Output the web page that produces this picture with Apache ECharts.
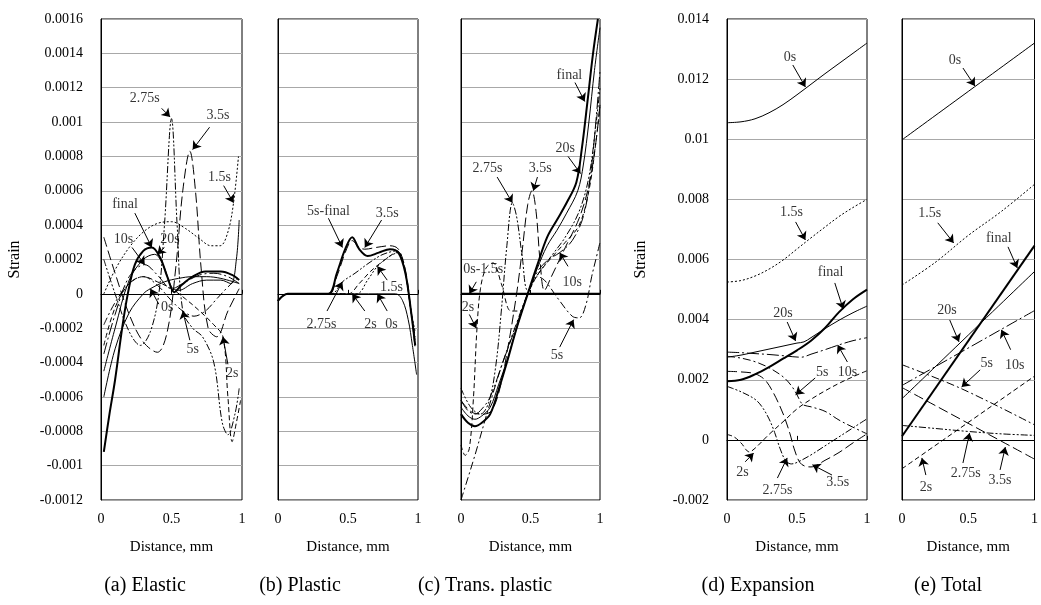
<!DOCTYPE html>
<html>
<head>
<meta charset="utf-8">
<script src="https://cdn.jsdelivr.net/npm/echarts@6/dist/echarts.min.js"></script>
<style>
  html, body { margin: 0; padding: 0; background: #fff; }
  #chart { width: 1041px; height: 605px; }
</style>
</head>
<body>
<div id="chart"></div>
<script>
// ---- axis ranges / ticks ----
const xRange = [0, 1, 0.5];                 // min, max, step (Distance, mm)
const yRangeSmall = [-0.0012, 0.0016, 0.0002]; // panels a-c
const yRangeLarge = [-0.002, 0.014, 0.002];    // panels d-e
const captions = ['(a) Elastic', '(b) Plastic', '(c) Trans. plastic', '(d) Expansion', '(e) Total'];

// ---- (a) Elastic ----
const aFinal = [[0.02,-0.00092],[0.06,-0.0007],[0.1,-0.0005],[0.15,-0.0002],[0.19,0],[0.24,0.00017],[0.3,0.00025],[0.36,0.00027],[0.42,0.00021],[0.47,0.0001],[0.52,0.00001],[0.57,0.00005],[0.65,0.0001],[0.74,0.00013],[0.85,0.00013],[0.93,0.00011],[0.98,0.00008]];
const a20s = [[0.02,-0.00045],[0.1,-0.0002],[0.2,0.00008],[0.3,0.0002],[0.38,0.00023],[0.44,0.00017],[0.5,0.00004],[0.55,0.00002],[0.65,0.00006],[0.75,0.00008],[0.85,0.00008],[0.92,0.00006],[0.96,0.0002],[0.98,0.00043]];
const a10s = [[0.02,-0.00035],[0.1,-0.00012],[0.2,0.0001],[0.31,0.00017],[0.4,0.00011],[0.5,0.00003],[0.6,0.00007],[0.7,0.00011],[0.8,0.00012],[0.9,0.0001],[0.98,0.00006]];
const a5s = [[0.02,-0.00018],[0.1,-0.00005],[0.2,0.00006],[0.3,0.0001],[0.4,0.00005],[0.5,-0.00004],[0.58,-0.0001],[0.66,-0.00013],[0.74,-0.0001],[0.82,-0.00003],[0.9,0.00004],[0.98,0.0001]];
const a3_5s = [[0.02,0.00033],[0.1,0.00012],[0.2,-0.00012],[0.3,-0.00028],[0.4,-0.00034],[0.47,-0.00022],[0.53,0.00015],[0.58,0.0006],[0.63,0.00083],[0.67,0.0006],[0.71,0.00015],[0.76,-0.0002],[0.82,-0.00025],[0.9,-0.0001],[0.98,0.00003]];
const a2_75s = [[0.02,0.0002],[0.1,0],[0.2,-0.00022],[0.28,-0.0003],[0.35,-0.00022],[0.41,0],[0.45,0.0004],[0.5,0.00102],[0.54,0.0004],[0.58,-0.0001],[0.65,-0.0002],[0.72,-0.00025],[0.8,-0.0004],[0.86,-0.00075],[0.9,-0.00082],[0.95,-0.0007],[0.98,-0.00055]];
const a2s = [[0.02,-0.0003],[0.1,-0.00008],[0.2,0.00006],[0.3,0.0001],[0.4,0.00007],[0.5,0.00003],[0.6,-0.00003],[0.7,-0.0001],[0.8,-0.00018],[0.865,-0.00025],[0.9,-0.0006],[0.93,-0.00086],[0.96,-0.00075],[0.99,-0.00062]];
const a1_5s = [[0.02,0],[0.1,0.00014],[0.2,0.00027],[0.3,0.00036],[0.4,0.00041],[0.5,0.00042],[0.6,0.00038],[0.7,0.00032],[0.78,0.00028],[0.845,0.00028],[0.9,0.00036],[0.94,0.00053],[0.975,0.0008]];
const a0s = [[0.02,-0.0006],[0.1,-0.00032],[0.2,-0.00011],[0.3,0],[0.35,0.00003],[0.45,0.00007],[0.55,0.00009],[0.65,0.0001],[0.75,0.0001],[0.85,0.00009],[0.98,0.00006]];

// ---- (b) Plastic ----
const bFinal = [[0,-0.00004],[0.07,0],[0.2,0],[0.36,0],[0.42,0.00012],[0.48,0.00026],[0.53,0.00033],[0.58,0.00026],[0.64,0.00022],[0.72,0.00024],[0.8,0.00026],[0.86,0.00024],[0.91,0.00012],[0.95,-0.0001],[0.98,-0.0003]];
const b3_5s = [[0,-0.00004],[0.07,0],[0.36,0],[0.42,0.0001],[0.48,0.00024],[0.53,0.00031],[0.58,0.00027],[0.62,0.00026],[0.7,0.00027],[0.8,0.00028],[0.86,0.00026],[0.91,0.00014],[0.95,-0.0001],[0.98,-0.00032]];
const b2_75s = [[0,-0.00004],[0.07,0],[0.38,0],[0.46,0.00007],[0.55,0.00012],[0.65,0.00018],[0.75,0.00023],[0.85,0.00025],[0.9,0.00016],[0.95,-0.0001],[0.98,-0.00028]];
const b2s = [[0,-0.00004],[0.07,0],[0.5,0],[0.58,0.00006],[0.66,0.00013],[0.75,0.00019],[0.85,0.00024],[0.9,0.00016],[0.95,-0.0001],[0.98,-0.00025]];
const b1_5s = [[0,-0.00004],[0.07,0],[0.56,0],[0.64,0.00008],[0.71,0.00016],[0.8,0.00022],[0.86,0.00024],[0.91,0.00012],[0.95,-0.0001],[0.98,-0.00022]];
const b0s = [[0,-0.00004],[0.07,0],[0.84,0],[0.89,-0.00004],[0.93,-0.00015],[0.96,-0.0003],[0.99,-0.00047]];

// ---- (c) Trans. plastic ----
const cFinal = [[0,-0.0007],[0.05,-0.00075],[0.1,-0.00077],[0.15,-0.00075],[0.21,-0.0007],[0.27,-0.00056],[0.33,-0.0004],[0.4,-0.0002],[0.48,0],[0.55,0.00017],[0.62,0.00033],[0.69,0.00043],[0.76,0.00053],[0.83,0.00065],[0.87,0.00085],[0.91,0.00112],[0.95,0.0014],[0.985,0.0016]];
const c20s = [[0,-0.00066],[0.05,-0.00071],[0.1,-0.00073],[0.15,-0.00071],[0.21,-0.00066],[0.27,-0.00053],[0.33,-0.00039],[0.4,-0.0002],[0.48,0],[0.55,0.00015],[0.62,0.00028],[0.69,0.00037],[0.76,0.00047],[0.84,0.0006],[0.88,0.00075],[0.92,0.001],[0.96,0.0013],[1,0.00155]];
const c10s = [[0,-0.00062],[0.05,-0.00068],[0.1,-0.0007],[0.15,-0.00067],[0.21,-0.0006],[0.3,-0.0004],[0.4,-0.00018],[0.48,0],[0.55,0.00013],[0.63,0.0002],[0.71,0.00024],[0.8,0.00031],[0.88,0.00045],[0.93,0.00068],[0.97,0.001],[1,0.0013]];
const c5s = [[0,-0.0012],[0.1,-0.00094],[0.2,-0.00066],[0.3,-0.0004],[0.4,-0.00017],[0.48,0],[0.55,0.0001],[0.6,0.00008],[0.7,-0.00003],[0.8,-0.00013],[0.85,-0.00014],[0.9,-0.00006],[0.94,0.0001],[0.97,0.0002],[1,0.0003]];
const c3_5s = [[0,-0.00062],[0.08,-0.00069],[0.16,-0.0007],[0.22,-0.00068],[0.28,-0.00055],[0.34,-0.0003],[0.4,0],[0.44,0.00025],[0.48,0.00052],[0.51,0.0006],[0.54,0.00048],[0.57,0.00018],[0.6,0.00002],[0.65,0.0001],[0.75,0.00027],[0.85,0.00044],[0.92,0.00063],[0.97,0.00088],[1,0.0011]];
const c2_75s = [[0,-0.00055],[0.07,-0.00066],[0.14,-0.0007],[0.2,-0.00063],[0.25,-0.00042],[0.29,-0.0001],[0.33,0.00028],[0.37,0.00053],[0.4,0.00045],[0.44,0.00022],[0.48,0.00002],[0.55,0.00011],[0.65,0.00022],[0.75,0.00033],[0.85,0.00048],[0.92,0.00068],[0.97,0.00098],[1,0.0012]];
const c2s = [[0,-0.00088],[0.03,-0.00094],[0.06,-0.0009],[0.09,-0.0006],[0.115,-0.0002],[0.14,0.00003],[0.18,0.00015],[0.23,0.00018],[0.29,0.00006],[0.36,-0.0001],[0.42,-0.0001],[0.48,0],[0.55,0.00011],[0.65,0.00021],[0.75,0.0003],[0.85,0.0004],[0.92,0.0006],[0.97,0.00088],[1,0.0011]];
const c0s_1_5s = [[0,0],[1,0]];

// ---- (d) Expansion ----
const d0s = [[0,0.01055],[0.1,0.01058],[0.2,0.01068],[0.3,0.01088],[0.4,0.01115],[0.5,0.01148],[0.6,0.01183],[0.7,0.01218],[0.8,0.01252],[0.9,0.01286],[1,0.0132]];
const d1_5s = [[0,0.00525],[0.1,0.0053],[0.2,0.00545],[0.3,0.00568],[0.4,0.00598],[0.5,0.00635],[0.6,0.00672],[0.7,0.00708],[0.8,0.00743],[0.9,0.00773],[1,0.008]];
const dFinal = [[0,0.00195],[0.1,0.002],[0.2,0.00218],[0.3,0.00242],[0.4,0.0027],[0.5,0.00298],[0.6,0.0033],[0.7,0.00372],[0.8,0.00425],[0.9,0.00468],[1,0.005]];
const d20s = [[0,0.00275],[0.1,0.00282],[0.2,0.00292],[0.3,0.00302],[0.4,0.00312],[0.5,0.00322],[0.55,0.00326],[0.6,0.0034],[0.7,0.0037],[0.8,0.00398],[0.9,0.00423],[1,0.00445]];
const d10s = [[0,0.00292],[0.1,0.0029],[0.2,0.00287],[0.3,0.00284],[0.4,0.0028],[0.53,0.00275],[0.6,0.00285],[0.7,0.003],[0.8,0.00316],[0.9,0.0033],[1,0.0034]];
const d5s = [[0,0.00278],[0.1,0.00272],[0.2,0.0026],[0.3,0.0024],[0.4,0.0021],[0.46,0.0018],[0.5,0.0015],[0.54,0.00118],[0.6,0.0011],[0.7,0.00095],[0.8,0.00066],[0.9,0.00042],[1,0.0002]];
const d3_5s = [[0,0.00228],[0.1,0.00226],[0.2,0.0022],[0.27,0.002],[0.32,0.00166],[0.37,0.0012],[0.41,0.00076],[0.45,0.0002],[0.48,-0.0003],[0.52,-0.00075],[0.56,-0.00088],[0.6,-0.0009],[0.7,-0.00068],[0.8,-0.00042],[0.9,-0.0001],[1,0.0002]];
const d2_75s = [[0,0.00178],[0.1,0.0016],[0.2,0.00135],[0.25,0.0011],[0.3,0.0007],[0.34,0.00025],[0.38,-0.0003],[0.42,-0.0007],[0.46,-0.0008],[0.5,-0.00075],[0.6,-0.0005],[0.7,-0.0002],[0.8,0.0001],[0.9,0.0004],[1,0.0007]];
const d2s = [[0,0.00018],[0.05,0.0001],[0.1,-0.0001],[0.16,-0.0004],[0.2,-0.00028],[0.3,0.00018],[0.4,0.0006],[0.5,0.00103],[0.6,0.00135],[0.7,0.00163],[0.8,0.00188],[0.9,0.0021],[1,0.0023]];

// ---- (e) Total ----
const e0s = [[0,0.00998],[1,0.0132]];
const e1_5s = [[0,0.00515],[0.25,0.0059],[0.5,0.0068],[0.75,0.0076],[1,0.0085]];
const eFinal = [[0,0.00012],[1,0.00646]];
const e20s = [[0,0.00137],[1,0.0056]];
const e10s = [[0,0.00181],[1,0.0043]];
const e5s = [[0,0.0025],[0.45,0.0017],[1,0.0005]];
const e3_5s = [[0,0.00174],[1,-0.00064]];
const e2_75s = [[0,0.00048],[0.25,0.00038],[0.5,0.00028],[0.75,0.0002],[1,0.00015]];
const e2s = [[0,-0.00096],[1,0.00212]];

// ---- callouts: text, text x/y, arrow start x/y, arrow tip x/y (data units) ----
const notesA = [
  ['2.75s', 0.31, 0.00114, 0.43, 0.00108, 0.49, 0.00103],
  ['3.5s', 0.83, 0.00104, 0.77, 0.00097, 0.65, 0.00084],
  ['1.5s', 0.84, 0.00068, 0.87, 0.00063, 0.94, 0.00053],
  ['final', 0.17, 0.00052, 0.24, 0.00047, 0.36, 0.00027],
  ['10s', 0.16, 0.00032, 0.22, 0.00027, 0.31, 0.00017],
  ['20s', 0.49, 0.00032, 0.45, 0.00027, 0.40, 0.00023],
  ['0s', 0.47, -0.00008, 0.41, -0.00006, 0.35, 0.00003],
  ['5s', 0.65, -0.00032, 0.63, -0.00027, 0.58, -0.0001],
  ['2s', 0.93, -0.00046, 0.9, -0.00041, 0.865, -0.00025]
];
const notesB = [
  ['5s-final', 0.36, 0.00048, 0.36, 0.00044, 0.46, 0.00027],
  ['3.5s', 0.78, 0.00047, 0.74, 0.00043, 0.62, 0.00027],
  ['2.75s', 0.31, -0.00018, 0.35, -0.0001, 0.46, 0.00007],
  ['2s', 0.66, -0.00018, 0.62, -0.0001, 0.53, 0],
  ['0s', 0.81, -0.00018, 0.78, -0.0001, 0.71, 0],
  ['1.5s', 0.81, 0.00004, 0.78, 0.00008, 0.71, 0.00016]
];
const notesC = [
  ['final', 0.78, 0.00127, 0.82, 0.00123, 0.89, 0.00112],
  ['20s', 0.75, 0.00085, 0.77, 0.0008, 0.86, 0.0007],
  ['2.75s', 0.19, 0.00073, 0.26, 0.00068, 0.37, 0.00053],
  ['3.5s', 0.57, 0.00073, 0.55, 0.00068, 0.52, 0.0006],
  ['0s-1.5s', 0.16, 0.00014, 0.11, 0.00007, 0.06, 0],
  ['2s', 0.05, -0.00008, 0.06, -0.00012, 0.11, -0.0002],
  ['10s', 0.8, 0.00007, 0.77, 0.00016, 0.71, 0.00024],
  ['5s', 0.69, -0.00036, 0.71, -0.00031, 0.81, -0.00015]
];
const notesD = [
  ['0s', 0.45, 0.01274, 0.47, 0.01247, 0.56, 0.01174],
  ['1.5s', 0.46, 0.00758, 0.49, 0.00725, 0.56, 0.00665],
  ['final', 0.74, 0.00558, 0.77, 0.00522, 0.83, 0.00435],
  ['20s', 0.4, 0.00422, 0.43, 0.00392, 0.49, 0.00329],
  ['5s', 0.68, 0.00226, 0.63, 0.00206, 0.49, 0.0015],
  ['10s', 0.86, 0.00226, 0.86, 0.00259, 0.79, 0.00316],
  ['2s', 0.11, -0.00107, 0.13, -0.00073, 0.19, -0.00044],
  ['2.75s', 0.36, -0.00167, 0.36, -0.00127, 0.43, -0.0006],
  ['3.5s', 0.79, -0.0014, 0.75, -0.00117, 0.61, -0.00083]
];
const notesE = [
  ['0s', 0.4, 0.01264, 0.46, 0.01237, 0.55, 0.01177],
  ['1.5s', 0.21, 0.00755, 0.27, 0.00722, 0.39, 0.00655],
  ['final', 0.73, 0.00672, 0.8, 0.00642, 0.87, 0.00572],
  ['20s', 0.34, 0.00432, 0.36, 0.00399, 0.43, 0.00326],
  ['10s', 0.85, 0.00249, 0.82, 0.003, 0.75, 0.00366],
  ['5s', 0.64, 0.00256, 0.59, 0.00233, 0.45, 0.00176],
  ['2.75s', 0.48, -0.0011, 0.46, -0.00077, 0.51, 0.00023],
  ['3.5s', 0.74, -0.00133, 0.74, -0.001, 0.78, -0.00024],
  ['2s', 0.18, -0.00157, 0.18, -0.00117, 0.15, -0.0006]
];

// ---- styles ----
const FONT = '"Liberation Serif", "Times New Roman", serif';
const dashes = {
  '0s': 'solid', '20s': 'solid', 'final': 'solid',
  '1.5s': [2, 2], '2s': [5, 3], '2.75s': [7, 2, 2, 2, 2, 2],
  '3.5s': [10, 4], '5s': [8, 3, 2, 3], '10s': [12, 3, 2, 3]
};

const panels = [
  { left: 101, width: 141, range: yRangeSmall, labels: true, notes: notesA,
    lines: [['0s', a0s], ['1.5s', a1_5s], ['2s', a2s], ['2.75s', a2_75s], ['3.5s', a3_5s], ['5s', a5s], ['10s', a10s], ['20s', a20s], ['final', aFinal]] },
  { left: 278, width: 140, range: yRangeSmall, labels: false, notes: notesB,
    lines: [['0s', b0s], ['1.5s', b1_5s], ['2s', b2s], ['2.75s', b2_75s], ['3.5s', b3_5s], ['final', bFinal]] },
  { left: 461, width: 139, range: yRangeSmall, labels: false, notes: notesC,
    lines: [['2s', c2s], ['2.75s', c2_75s], ['3.5s', c3_5s], ['5s', c5s], ['10s', c10s], ['20s', c20s], ['final', cFinal], ['final', c0s_1_5s]] },
  { left: 727, width: 140, range: yRangeLarge, labels: true, notes: notesD,
    lines: [['0s', d0s], ['1.5s', d1_5s], ['2s', d2s], ['2.75s', d2_75s], ['3.5s', d3_5s], ['5s', d5s], ['10s', d10s], ['20s', d20s], ['final', dFinal]] },
  { left: 902, width: 141, range: yRangeLarge, labels: false, notes: notesE,
    lines: [['0s', e0s], ['1.5s', e1_5s], ['2s', e2s], ['2.75s', e2_75s], ['3.5s', e3_5s], ['5s', e5s], ['10s', e10s], ['20s', e20s], ['final', eFinal]] }
];
const captionX = [145, 300, 485, 758, 948];

const grid = [], xAxis = [], yAxis = [], series = [], graphic = [];
panels.forEach((p, i) => {
  grid.push({ left: p.left, top: 19, width: p.width, height: 481, show: true,
    borderColor: '#000', borderWidth: 1, containLabel: false });
  xAxis.push({
    gridIndex: i, type: 'value', min: xRange[0], max: xRange[1], interval: xRange[2],
    name: 'Distance, mm', nameLocation: 'middle', nameGap: 40,
    nameTextStyle: { fontFamily: FONT, fontSize: 15, color: '#000' },
    axisLine: { lineStyle: { color: '#000' } },
    axisTick: { inside: true, length: 4, lineStyle: { color: '#000' } },
    axisLabel: { fontFamily: FONT, fontSize: 14, color: '#000', margin: 12, formatter: v => String(v) },
    splitLine: { show: false }
  });
  yAxis.push({
    gridIndex: i, type: 'value', min: p.range[0], max: p.range[1], interval: p.range[2],
    name: p.labels ? 'Strain' : '', nameLocation: 'middle', nameGap: 78,
    nameTextStyle: { fontFamily: FONT, fontSize: 16, color: '#000' },
    axisLine: { lineStyle: { color: '#000' } },
    axisTick: { show: false },
    axisLabel: { show: p.labels, fontFamily: FONT, fontSize: 14, color: '#000', margin: 18,
      formatter: v => String(+v.toPrecision(4)) },
    splitLine: { lineStyle: { color: '#a8a8a8', width: 1 } }
  });
  p.lines.forEach(([name, data]) => {
    const thick = name === 'final';
    series.push({
      type: 'line', xAxisIndex: i, yAxisIndex: i, data: data,
      smooth: 0.35, showSymbol: false, silent: true,
      lineStyle: { color: '#000', width: thick ? 2 : 1, type: dashes[name] }
    });
  });
  series.push({
    type: 'scatter', xAxisIndex: i, yAxisIndex: i, silent: true,
    symbolSize: 1, itemStyle: { color: 'rgba(0,0,0,0)' },
    data: p.notes.map(n => [n[1], n[2], n[0]]),
    label: { show: true, position: 'inside', formatter: q => q.value[2],
      fontFamily: FONT, fontSize: 14, color: '#000' },
    markLine: {
      silent: true, symbol: ['none', 'arrow'], symbolSize: 8, animation: false,
      label: { show: false },
      lineStyle: { color: '#000', width: 1, type: 'solid' },
      data: p.notes.map(n => [{ coord: [n[3], n[4]] }, { coord: [n[5], n[6]] }])
    }
  });
  graphic.push({ type: 'text', x: captionX[i], y: 576,
    style: { text: captions[i], fontFamily: FONT, fontSize: 20, fill: '#000', textAlign: 'center' } });
});

const chart = echarts.init(document.getElementById('chart'));
chart.setOption({
  animation: false,
  backgroundColor: '#fff',
  grid: grid, xAxis: xAxis, yAxis: yAxis, series: series,
  graphic: graphic
});
</script>
</body>
</html>
